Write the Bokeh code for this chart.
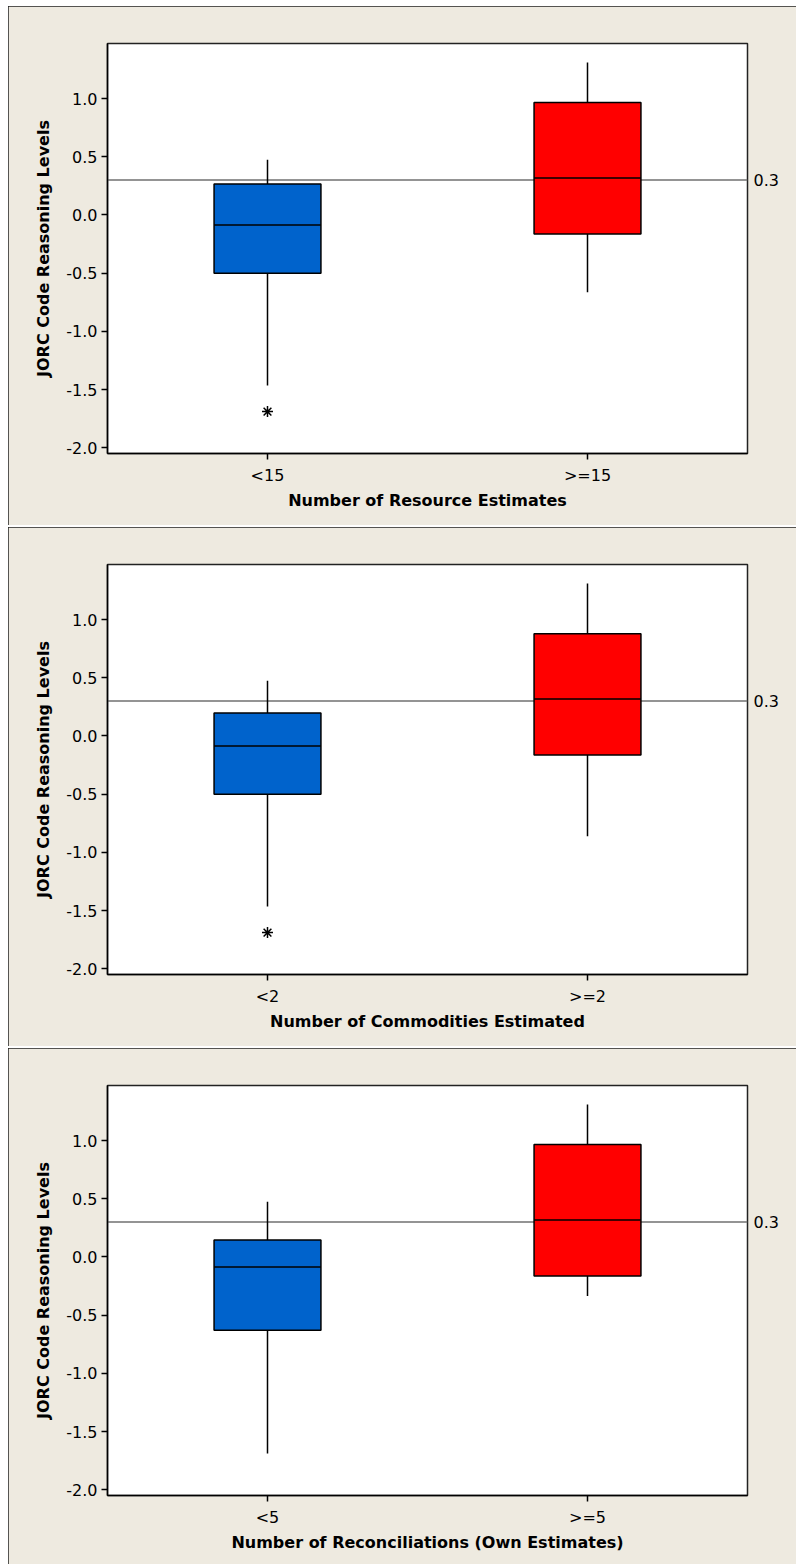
from bokeh.plotting import figure
from bokeh.models import Range1d, LinearAxis, FixedTicker, Span, NumeralTickFormatter
from bokeh.layouts import column
from bokeh.embed import file_html
from bokeh.resources import INLINE

# ---- data ----
y_label = "JORC Code Reasoning Levels"
ref_value = 0.3

p1_title = "Number of Resource Estimates"
p1_cats = ["<15", ">=15"]
p1_wlow = [-1.466, -0.664]
p1_q1 = [-0.50, -0.164]
p1_med = [-0.086, 0.319]
p1_q3 = [0.267, 0.966]
p1_whigh = [0.474, 1.31]
p1_out_cat = [0]
p1_out_val = [-1.69]

p2_title = "Number of Commodities Estimated"
p2_cats = ["<2", ">=2"]
p2_wlow = [-1.466, -0.862]
p2_q1 = [-0.50, -0.164]
p2_med = [-0.086, 0.319]
p2_q3 = [0.198, 0.879]
p2_whigh = [0.474, 1.31]
p2_out_cat = [0]
p2_out_val = [-1.69]

p3_title = "Number of Reconciliations (Own Estimates)"
p3_cats = ["<5", ">=5"]
p3_wlow = [-1.69, -0.336]
p3_q1 = [-0.629, -0.164]
p3_med = [-0.086, 0.319]
p3_q3 = [0.147, 0.966]
p3_whigh = [0.474, 1.31]
p3_out_cat = []
p3_out_val = []

box_colors = ["#0063CC", "#FF0000"]
y_ticks = [-2.0, -1.5, -1.0, -0.5, 0.0, 0.5, 1.0]

BG = "#EEEAE0"
FONT = "DejaVu Sans"
BOX_W = 0.334


def make_panel(title, cats, wlow, q1, med, q3, whigh, out_cat, out_val, height, bottom):
    xs = [i + 1 for i in range(len(cats))]
    p = figure(width=788, height=height, output_backend="svg", toolbar_location=None,
               x_range=Range1d(0.5, 2.5), y_range=Range1d(-2.05, 1.474),
               min_border_left=99, min_border_right=49, min_border_top=37,
               min_border_bottom=bottom,
               background_fill_color="white", border_fill_color=BG)
    p.styles = {"outline": "1.5px solid #222", "outline-offset": "-1.5px"}
    p.grid.visible = False
    p.outline_line_color = "#222"
    p.outline_line_width = 1.5

    ref = Span(location=ref_value, dimension="width", line_color="#707070", line_width=1.5,
               level="underlay")
    p.add_layout(ref)

    p.segment(x0=xs, y0=wlow, x1=xs, y1=whigh, line_color="black", line_width=1.5)
    p.vbar(x=xs, width=BOX_W, bottom=q1, top=q3, fill_color=box_colors,
           line_color="black", line_width=1.5)
    p.segment(x0=[x - BOX_W / 2 for x in xs], y0=med, x1=[x + BOX_W / 2 for x in xs], y1=med,
              line_color="black", line_width=1.5)
    if out_val:
        p.scatter(x=[xs[i] for i in out_cat], y=out_val, marker="asterisk", size=11,
                  line_color="black", line_width=1.5)

    xa = p.xaxis[0]
    xa.ticker = FixedTicker(ticks=xs)
    xa.major_label_overrides = {x: c for x, c in zip(xs, cats)}
    xa.axis_label = title
    ya = p.yaxis[0]
    ya.ticker = FixedTicker(ticks=y_ticks)
    ya.formatter = NumeralTickFormatter(format="0.0")
    ya.axis_label = y_label

    for ax in (xa, ya):
        ax.minor_tick_line_color = None
        ax.major_tick_out = 6
        ax.major_tick_in = 0
        ax.major_tick_line_color = "black"
        ax.major_tick_line_width = 1.5
        ax.axis_line_color = "black"
        ax.axis_line_width = 1.5
        ax.major_label_text_font = FONT
        ax.major_label_text_font_size = "16px"
        ax.major_label_text_color = "black"
        ax.axis_label_text_font = FONT
        ax.axis_label_text_font_size = "16px"
        ax.axis_label_text_font_style = "bold"
        ax.axis_label_text_color = "black"
    xa.major_label_standoff = 6
    xa.axis_label_standoff = 3
    ya.major_label_standoff = 4
    ya.axis_label_standoff = 10

    ra = LinearAxis(ticker=FixedTicker(ticks=[ref_value]),
                    formatter=NumeralTickFormatter(format="0.0"))
    ra.axis_line_color = None
    ra.major_tick_line_color = None
    ra.minor_tick_line_color = None
    ra.major_tick_out = 0
    ra.major_tick_in = 0
    ra.major_label_standoff = 6
    ra.major_label_text_font = FONT
    ra.major_label_text_font_size = "16px"
    ra.major_label_text_color = "black"
    p.add_layout(ra, "right")
    return p


p1 = make_panel(p1_title, p1_cats, p1_wlow, p1_q1, p1_med, p1_q3, p1_whigh,
                p1_out_cat, p1_out_val, 519, 72)
p2 = make_panel(p2_title, p2_cats, p2_wlow, p2_q1, p2_med, p2_q3, p2_whigh,
                p2_out_cat, p2_out_val, 519, 72)
p3 = make_panel(p3_title, p3_cats, p3_wlow, p3_q1, p3_med, p3_q3, p3_whigh,
                p3_out_cat, p3_out_val, 516, 69)

layout = column(p1, p2, p3, spacing=2)
layout.margin = (6, 0, 0, 8)
open("out.html", "w").write(file_html(layout, INLINE))
